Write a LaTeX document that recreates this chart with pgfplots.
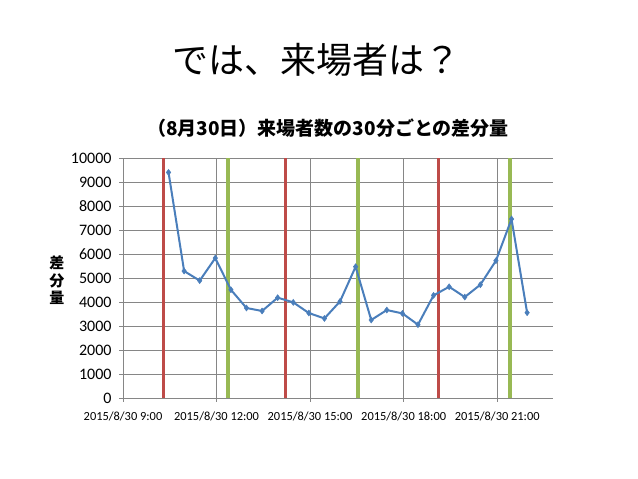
\documentclass[border=0pt]{standalone}
\usepackage{pgfplots}
\usepackage{pgfplotstable}
\pgfplotsset{compat=1.18}
\usepackage{fontspec}
\setmainfont{Carlito}
\newfontfamily\cjk{Noto Sans CJK JP}

\definecolor{xlblue}{HTML}{4A7EBB}
\definecolor{xlred}{HTML}{BE4B48}
\definecolor{xlgreen}{HTML}{98B954}
\definecolor{gridgray}{HTML}{868686}

% time in hours, difference per 30 minutes
\pgfplotstableread{
t v
10.46 9400
10.96 5290
11.46 4890
11.96 5830
12.46 4510
12.96 3750
13.46 3625
13.96 4180
14.46 3985
14.96 3540
15.46 3315
15.96 4025
16.46 5470
16.96 3250
17.46 3665
17.96 3525
18.46 3055
18.96 4275
19.46 4635
19.96 4205
20.46 4720
20.96 5720
21.46 7455
21.96 3555
}\diffdata

\begin{document}
\begin{tikzpicture}
\useasboundingbox (0,0) rectangle (638pt,479pt);
\node[font=\cjk\fontsize{36}{40}\selectfont] at (316pt,419pt) {では、来場者は？};
\begin{axis}[
  at={(123pt,81pt)}, anchor=south west,
  scale only axis, width=430pt, height=240pt,
  xmin=9, xmax=22.79, ymin=0, ymax=10000,
  axis x line*=bottom, axis y line*=left,
  axis line style={gridgray, line width=0.8pt, -},
  xtick={9,12,15,18,21},
  xticklabels={2015/8/30 9:00, 2015/8/30 12:00, 2015/8/30 15:00, 2015/8/30 18:00, 2015/8/30 21:00},
  ytick={0,1000,...,10000},
  grid=major,
  major grid style={gridgray, line width=0.8pt},
  tick style={gridgray, line width=0.8pt},
  tick align=outside, major tick length=4pt,
  xticklabel style={font=\fontsize{12.4}{14}\selectfont, yshift=-6pt},
  yticklabel style={font=\fontsize{16}{18}\selectfont, xshift=-4pt},
  /pgf/number format/assume math mode=true,
  /pgf/number format/set thousands separator={},
  scaled y ticks=false,
  title={（8月30日）来場者数の30分ごとの差分量},
  title style={at={(0.477,1)}, anchor=center, yshift=23.5pt,
    font=\cjk\bfseries\fontsize{19}{22}\selectfont},
  ylabel={差\\分\\量},
  ylabel style={rotate=-90, align=center, anchor=center,
    at={(axis description cs:-0.154,0.49)},
    font=\cjk\bfseries\fontsize{15}{17.5}\selectfont},
]
\addplot[xlred, line width=2.8pt] coordinates {(10.31,0) (10.31,10000)};
\addplot[xlred, line width=2.8pt] coordinates {(14.21,0) (14.21,10000)};
\addplot[xlred, line width=2.8pt] coordinates {(19.11,0) (19.11,10000)};
\addplot[xlgreen, line width=4.2pt] coordinates {(12.37,0) (12.37,10000)};
\addplot[xlgreen, line width=4.2pt] coordinates {(16.54,0) (16.54,10000)};
\addplot[xlgreen, line width=4.2pt] coordinates {(21.41,0) (21.41,10000)};
\addplot[xlblue, line width=2pt, mark=diamond*, mark size=3pt,
  mark options={fill=xlblue, draw=xlblue, line width=0.5pt}] table[x=t, y=v] {\diffdata};
\end{axis}
\end{tikzpicture}
\end{document}
